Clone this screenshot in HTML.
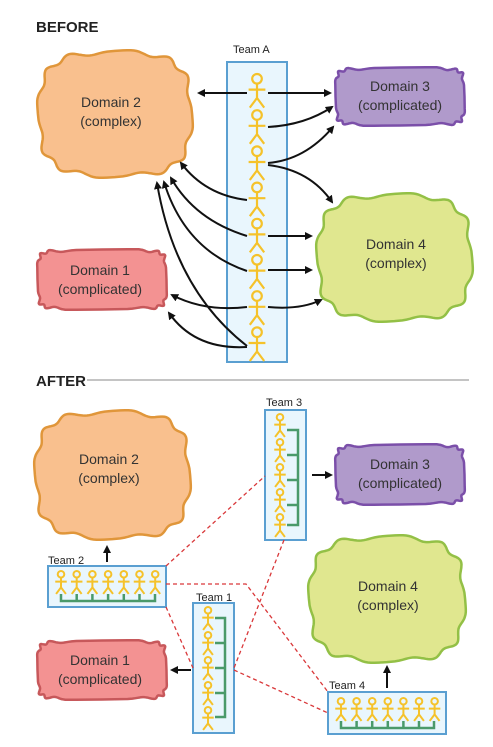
<!DOCTYPE html>
<html><head><meta charset="utf-8"><style>
html,body{margin:0;padding:0;background:#fff;}
svg{display:block;font-family:"Liberation Sans",sans-serif;}
</style></head><body>
<svg id="s" width="493" height="747" viewBox="0 0 493 747" xmlns="http://www.w3.org/2000/svg">
<defs>
<marker id="ah" markerWidth="8" markerHeight="8" refX="6" refY="4" orient="auto" markerUnits="userSpaceOnUse">
<path d="M0,0 L8,4 L0,8 z" fill="#111"/></marker>
</defs>
<g id="blobs"></g>
<g id="boxes"></g>
<g id="lines" fill="none" stroke="#111" stroke-width="2" marker-end="url(#ah)">
<path d="M247,93 L199,93"/>
<path d="M268,93 L330,93"/>
<path d="M268,127 Q305,125 332,107"/>
<path d="M268,163 Q305,160 333,127"/>
<path d="M268,165 Q310,170 332,202"/>
<path d="M247,200 Q205,195 181,163"/>
<path d="M247,236 Q195,220 171,178"/>
<path d="M247,271 Q185,250 164,182"/>
<path d="M247,346 Q175,290 157,183"/>
<path d="M268,236 L311,236"/>
<path d="M268,270 L311,270"/>
<path d="M247,307 Q205,312 172,295"/>
<path d="M268,307 Q300,310 321,300"/>
<path d="M247,347 Q195,350 169,313"/>
<path d="M312,475 L331,475"/>
<path d="M107,562 L107,547"/>
<path d="M191,670 L172,670"/>
<path d="M387,688 L387,667"/>
</g>
<g fill="none" stroke="#d9383a" stroke-width="1.3" stroke-dasharray="4,3">
<path d="M166,566 L265,476"/>
<path d="M166,584 L246,584 L328,692"/>
<path d="M166,607 L193,668"/>
<path d="M284,540 L234,668"/>
<path d="M234,670 L328,713"/>
</g>
<g id="figs"></g>
<g font-size="14" fill="#222">
<text x="36" y="32" font-weight="bold" font-size="15">BEFORE</text>
<text x="36" y="386" font-weight="bold" font-size="15">AFTER</text>
<text x="233" y="53" font-size="11">Team A</text>
<text x="266" y="406" font-size="11">Team 3</text>
<text x="48" y="564" font-size="11">Team 2</text>
<text x="196" y="601" font-size="11">Team 1</text>
<text x="329" y="689" font-size="11">Team 4</text>
</g>
<line x1="87" y1="380" x2="469" y2="380" stroke="#888" stroke-width="1"/>
<g font-size="14" fill="#333" text-anchor="middle">
<text x="111" y="107">Domain 2</text><text x="111" y="126">(complex)</text>
<text x="400" y="91">Domain 3</text><text x="400" y="110">(complicated)</text>
<text x="396" y="249">Domain 4</text><text x="396" y="268">(complex)</text>
<text x="100" y="275">Domain 1</text><text x="100" y="294">(complicated)</text>
<text x="109" y="464">Domain 2</text><text x="109" y="483">(complex)</text>
<text x="400" y="469">Domain 3</text><text x="400" y="488">(complicated)</text>
<text x="388" y="591">Domain 4</text><text x="388" y="610">(complex)</text>
<text x="100" y="665">Domain 1</text><text x="100" y="684">(complicated)</text>
</g>
</svg>
<script>
var NS="http://www.w3.org/2000/svg";
function el(p,t,a){var e=document.createElementNS(NS,t);for(var k in a)e.setAttribute(k,a[k]);p.appendChild(e);return e;}
var B=document.getElementById('blobs');
function blob(x,y,w,h,n,amp,k,fill,stroke){
 var cx=x+w/2,cy=y+h/2,a=w/2-amp,b=h/2-amp,pts=[];
 for(var i=0;i<240;i++){var t=i/240*2*Math.PI,c=Math.cos(t),s=Math.sin(t);
  var px=a*Math.sign(c)*Math.pow(Math.abs(c),2/n),py=b*Math.sign(s)*Math.pow(Math.abs(s),2/n);
  var r=amp*Math.sin(k*t+0.7);var L=Math.hypot(px/a,py/b)||1;
  px+=r*px/(a*L);py+=r*py/(b*L);pts.push((cx+px).toFixed(1)+","+(cy+py).toFixed(1));}
 el(B,'polygon',{points:pts.join(' '),fill:fill,stroke:stroke,'stroke-width':2.5});
}
var OR=['#f9c08e','#e0963a'],PU=['#b09acb','#7b4fa9'],GR=['#e0e78f','#93c046'],RE=['#f39292','#c7585b'];
blob(37,50,156,128,3.2,2.5,12,OR[0],OR[1]);
blob(335,67,130,59,8,1.5,12,PU[0],PU[1]);
blob(316,193,157,129,3.2,2.5,12,GR[0],GR[1]);
blob(37,249,130,61,8,1.5,12,RE[0],RE[1]);
blob(34,410,157,130,3.2,2.5,12,OR[0],OR[1]);
blob(335,444,130,61,8,1.5,12,PU[0],PU[1]);
blob(308,535,158,128,3.2,2.5,12,GR[0],GR[1]);
blob(37,640,130,60,8,1.5,12,RE[0],RE[1]);
var X=document.getElementById('boxes');
function box(x,y,w,h){el(X,'rect',{x:x,y:y,width:w,height:h,fill:'#e9f6fd',stroke:'#5a9fd1','stroke-width':2});}
box(227,62,60,300);box(265,410,41,130);box(48,566,118,41);box(193,603,41,130);box(328,692,118,42);
var F=document.getElementById('figs');
function fig(cx,y,s,w){var g='#f5c22a';
 el(F,'circle',{cx:cx,cy:y+4*s,r:4*s,fill:'none',stroke:g,'stroke-width':w});
 el(F,'path',{d:'M'+cx+','+(y+8*s)+'V'+(y+20*s)+'M'+(cx-7*s)+','+(y+13*s)+'H'+(cx+7*s)+'M'+(cx-6*s)+','+(y+28*s)+'L'+cx+','+(y+20*s)+'L'+(cx+6*s)+','+(y+28*s),fill:'none',stroke:g,'stroke-width':w});}
for(var i=0;i<8;i++)fig(257,74+i*36.2,1.2,2.2);
var G='#4a9a6a';
el(F,'path',{d:'M287,430H298V525H287M287,455H298M287,480H298M287,505H298',fill:'none',stroke:G,'stroke-width':2.5});
for(i=0;i<5;i++)fig(280,414+i*25,0.82,2);
el(F,'path',{d:'M215,618H225V717H215M215,643H225M215,668H225M215,693H225',fill:'none',stroke:G,'stroke-width':2.5});
for(i=0;i<5;i++)fig(208,607+i*25,0.82,2);
var d='M61,594V601H155V594';for(i=1;i<6;i++)d+='M'+(61+i*15.7)+',594V601';
el(F,'path',{d:d,fill:'none',stroke:G,'stroke-width':2.5});
for(i=0;i<7;i++)fig(61+i*15.7,571,0.82,2);
d='M341,721V728H434V721';for(i=1;i<6;i++)d+='M'+(341+i*15.6)+',721V728';
el(F,'path',{d:d,fill:'none',stroke:G,'stroke-width':2.5});
for(i=0;i<7;i++)fig(341+i*15.6,698,0.82,2);
</script>
</body></html>
